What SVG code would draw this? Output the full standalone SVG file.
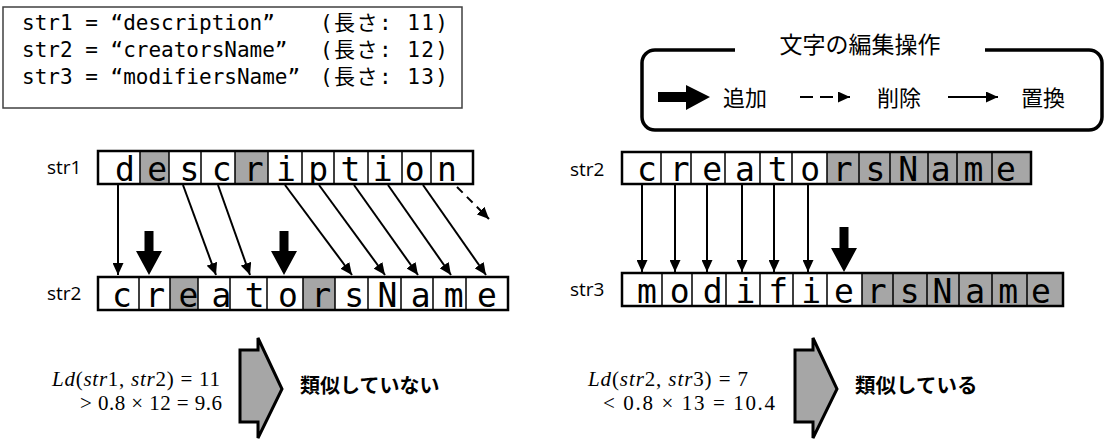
<svg xmlns="http://www.w3.org/2000/svg" width="1106" height="442" viewBox="0 0 1106 442">
<style>
.bg{fill:#fff}
.grey{fill:#a6a6a6}
.box{fill:none;stroke:#000;stroke-width:2.5}
.div{stroke:#000;stroke-width:1.5}
.ch{font-family:"DejaVu Sans Mono",monospace;font-size:33px;text-anchor:middle;fill:#000}
.lbl{font-family:"Open Sans","Liberation Sans",sans-serif;font-size:19px;fill:#000}
.mono{font-family:"DejaVu Sans Mono","Noto Sans CJK JP",monospace;font-size:21px;fill:#000}
.jp{font-family:"Noto Sans CJK JP",sans-serif;fill:#000}
.math{font-family:"Liberation Serif",serif;font-size:21px;fill:#000}
.it{font-style:italic}
.thin{stroke:#000;stroke-width:2;fill:none}
.dash{stroke:#000;stroke-width:2;fill:none;stroke-dasharray:8 6}
.big{fill:#a6a6a6;stroke:#000;stroke-width:3;stroke-linejoin:miter}
</style>
<defs>
<marker id="ah" markerUnits="userSpaceOnUse" markerWidth="12" markerHeight="11" refX="12" refY="5.5" orient="auto">
<path d="M0,0 L12,5.5 L0,11 Z" fill="#000"/>
</marker>
<clipPath id="c1"><rect x="98" y="151" width="375" height="33"/></clipPath>
<clipPath id="c2"><rect x="98" y="277" width="410" height="33"/></clipPath>
<clipPath id="c3"><rect x="622" y="152" width="409" height="32"/></clipPath>
<clipPath id="c4"><rect x="622" y="273" width="441" height="33"/></clipPath>
</defs>
<rect width="1106" height="442" fill="#fff"/>

<g id="definitions">
<rect x="3" y="7" width="459" height="101" fill="#fff" stroke="#404040" stroke-width="1.5"/>
<text class="mono" x="22" y="30">str1 = “description”</text>
<text class="mono" x="22" y="57">str2 = “creatorsName”</text>
<text class="mono" x="22" y="84">str3 = “modifiersName”</text>
<text class="mono" x="320" y="30" textLength="128" lengthAdjust="spacing">(長さ: 11)</text>
<text class="mono" x="320" y="57" textLength="128" lengthAdjust="spacing">(長さ: 12)</text>
<text class="mono" x="320" y="84" textLength="128" lengthAdjust="spacing">(長さ: 13)</text>
</g>

<g id="legend">
<path d="M735,50 H655 A13,13 0 0 0 642,63 V117 A13,13 0 0 0 655,130 H1089 A13,13 0 0 0 1102,117 V63 A13,13 0 0 0 1089,50 H985" fill="none" stroke="#000" stroke-width="3.5"/>
<text class="jp" x="860" y="53" font-size="23" text-anchor="middle">文字の編集操作</text>
<polygon points="658,92 686,92 686,85 710,97 686,110 686,102 658,102" fill="#000"/>
<text class="jp" x="723" y="106" font-size="22">追加</text>
<line class="thin" x1="800" y1="97" x2="850" y2="97" stroke-dasharray="13 7" marker-end="url(#ah)"/>
<text class="jp" x="877" y="106" font-size="22">削除</text>
<line class="thin" x1="948" y1="97" x2="998" y2="97" marker-end="url(#ah)"/>
<text class="jp" x="1021" y="106" font-size="22">置換</text>
</g>

<g id="str1-left">
<text class="lbl" x="47" y="174">str1</text>
<rect class="bg" x="98" y="151" width="375" height="33"/>
<rect class="grey" x="140" y="151" width="29" height="33"/>
<rect class="grey" x="235" y="151" width="33" height="33"/>
<g clip-path="url(#c1)"><text class="ch" x="125 157.2 189.4 221.6 253.8 286 318.2 350.4 382.6 414.8 447" y="181">description</text></g>
<path class="div" d="M140,151V184M169,151V184M201,151V184M235,151V184M268,151V184M302,151V184M334,151V184M368,151V184M402,151V184M431,151V184"/>
<rect class="box" x="98" y="151" width="375" height="33"/>
</g>

<g id="str2-left">
<text class="lbl" x="47" y="300">str2</text>
<rect class="bg" x="98" y="277" width="410" height="33"/>
<rect class="grey" x="170" y="277" width="28" height="33"/>
<rect class="grey" x="303" y="277" width="32" height="33"/>
<g clip-path="url(#c2)"><text class="ch" x="122 155.2 188.4 221.5 254.7 287.9 321.1 354.3 387.5 420.6 453.8 487" y="307">creatorsName</text></g>
<path class="div" d="M139,277V310M170,277V310M198,277V310M230,277V310M267,277V310M303,277V310M335,277V310M368,277V310M401,277V310M433,277V310M466,277V310"/>
<rect class="box" x="98" y="277" width="410" height="33"/>
</g>

<g id="str2-right">
<text class="lbl" x="570" y="176">str2</text>
<rect class="bg" x="622" y="152" width="409" height="32"/>
<rect class="grey" x="827" y="152" width="204" height="32"/>
<g clip-path="url(#c3)"><text class="ch" x="647 679.6 712.3 744.9 777.6 810.2 842.8 875.5 908.1 940.8 973.4 1006" y="181">creatorsName</text></g>
<path class="div" d="M661,152V184M691,152V184M725,152V184M760,152V184M792,152V184M827,152V184M859,152V184M890,152V184M928,152V184M957,152V184M992,152V184"/>
<rect class="box" x="622" y="152" width="409" height="32"/>
</g>

<g id="str3-right">
<text class="lbl" x="570" y="296">str3</text>
<rect class="bg" x="622" y="273" width="441" height="33"/>
<rect class="grey" x="862" y="273" width="201" height="33"/>
<g clip-path="url(#c4)"><text class="ch" x="647 679.8 712.7 745.5 778.3 811.2 844 876.8 909.7 942.5 975.3 1008.2 1041" y="303">modifiersName</text></g>
<path class="div" d="M662,273V306M692,273V306M726,273V306M760,273V306M793,273V306M827,273V306M862,273V306M893,273V306M927,273V306M959,273V306M992,273V306M1027,273V306"/>
<rect class="box" x="622" y="273" width="441" height="33"/>
</g>

<g id="connectors">
<line class="thin" x1="118" y1="185" x2="118" y2="275" marker-end="url(#ah)"/>
<line class="thin" x1="183" y1="185" x2="216" y2="275" marker-end="url(#ah)"/>
<line class="thin" x1="218" y1="185" x2="250" y2="275" marker-end="url(#ah)"/>
<line class="thin" x1="285" y1="185" x2="352" y2="275" marker-end="url(#ah)"/>
<line class="thin" x1="319" y1="185" x2="385" y2="275" marker-end="url(#ah)"/>
<line class="thin" x1="354" y1="185" x2="418" y2="275" marker-end="url(#ah)"/>
<line class="thin" x1="388" y1="185" x2="451" y2="275" marker-end="url(#ah)"/>
<line class="thin" x1="423" y1="185" x2="486" y2="275" marker-end="url(#ah)"/>
<line class="dash" x1="457" y1="187" x2="489" y2="219" marker-end="url(#ah)"/>
<polygon points="144.5,231 153.5,231 153.5,251 162,251 149,275 136,251 144.5,251" fill="#000"/>
<polygon points="279.5,231 288.5,231 288.5,251 297,251 284,275 271,251 279.5,251" fill="#000"/>
<line class="thin" x1="642" y1="185" x2="642" y2="272" marker-end="url(#ah)"/>
<line class="thin" x1="675" y1="185" x2="675" y2="272" marker-end="url(#ah)"/>
<line class="thin" x1="707" y1="185" x2="707" y2="272" marker-end="url(#ah)"/>
<line class="thin" x1="742" y1="185" x2="742" y2="272" marker-end="url(#ah)"/>
<line class="thin" x1="774" y1="185" x2="774" y2="272" marker-end="url(#ah)"/>
<line class="thin" x1="808" y1="185" x2="808" y2="272" marker-end="url(#ah)"/>
<polygon points="839.5,227 848.5,227 848.5,248 857,248 844,272 831,248 839.5,248" fill="#000"/>
</g>

<g id="result-left">
<text class="math" x="52" y="386" textLength="168" lengthAdjust="spacing"><tspan class="it">Ld</tspan>(<tspan class="it">str</tspan>1, <tspan class="it">str</tspan>2) = 11</text>
<text class="math" x="80" y="410" textLength="142" lengthAdjust="spacing">&gt; 0.8 × 12 = 9.6</text>
<polygon class="big" points="240,350 258,350 258,338 282,389 258,438 258,422 240,422"/>
<text class="jp" x="300" y="393" font-size="20" font-weight="bold">類似していない</text>
</g>

<g id="result-right">
<text class="math" x="588" y="386" textLength="160" lengthAdjust="spacing"><tspan class="it">Ld</tspan>(<tspan class="it">str</tspan>2, <tspan class="it">str</tspan>3) = 7</text>
<text class="math" x="603" y="410" textLength="172" lengthAdjust="spacing">&lt; 0.8 × 13 = 10.4</text>
<polygon class="big" points="795,350 813,350 813,338 837,389 813,438 813,422 795,422"/>
<text class="jp" x="855" y="393" font-size="20.5" font-weight="bold">類似している</text>
</g>
</svg>
